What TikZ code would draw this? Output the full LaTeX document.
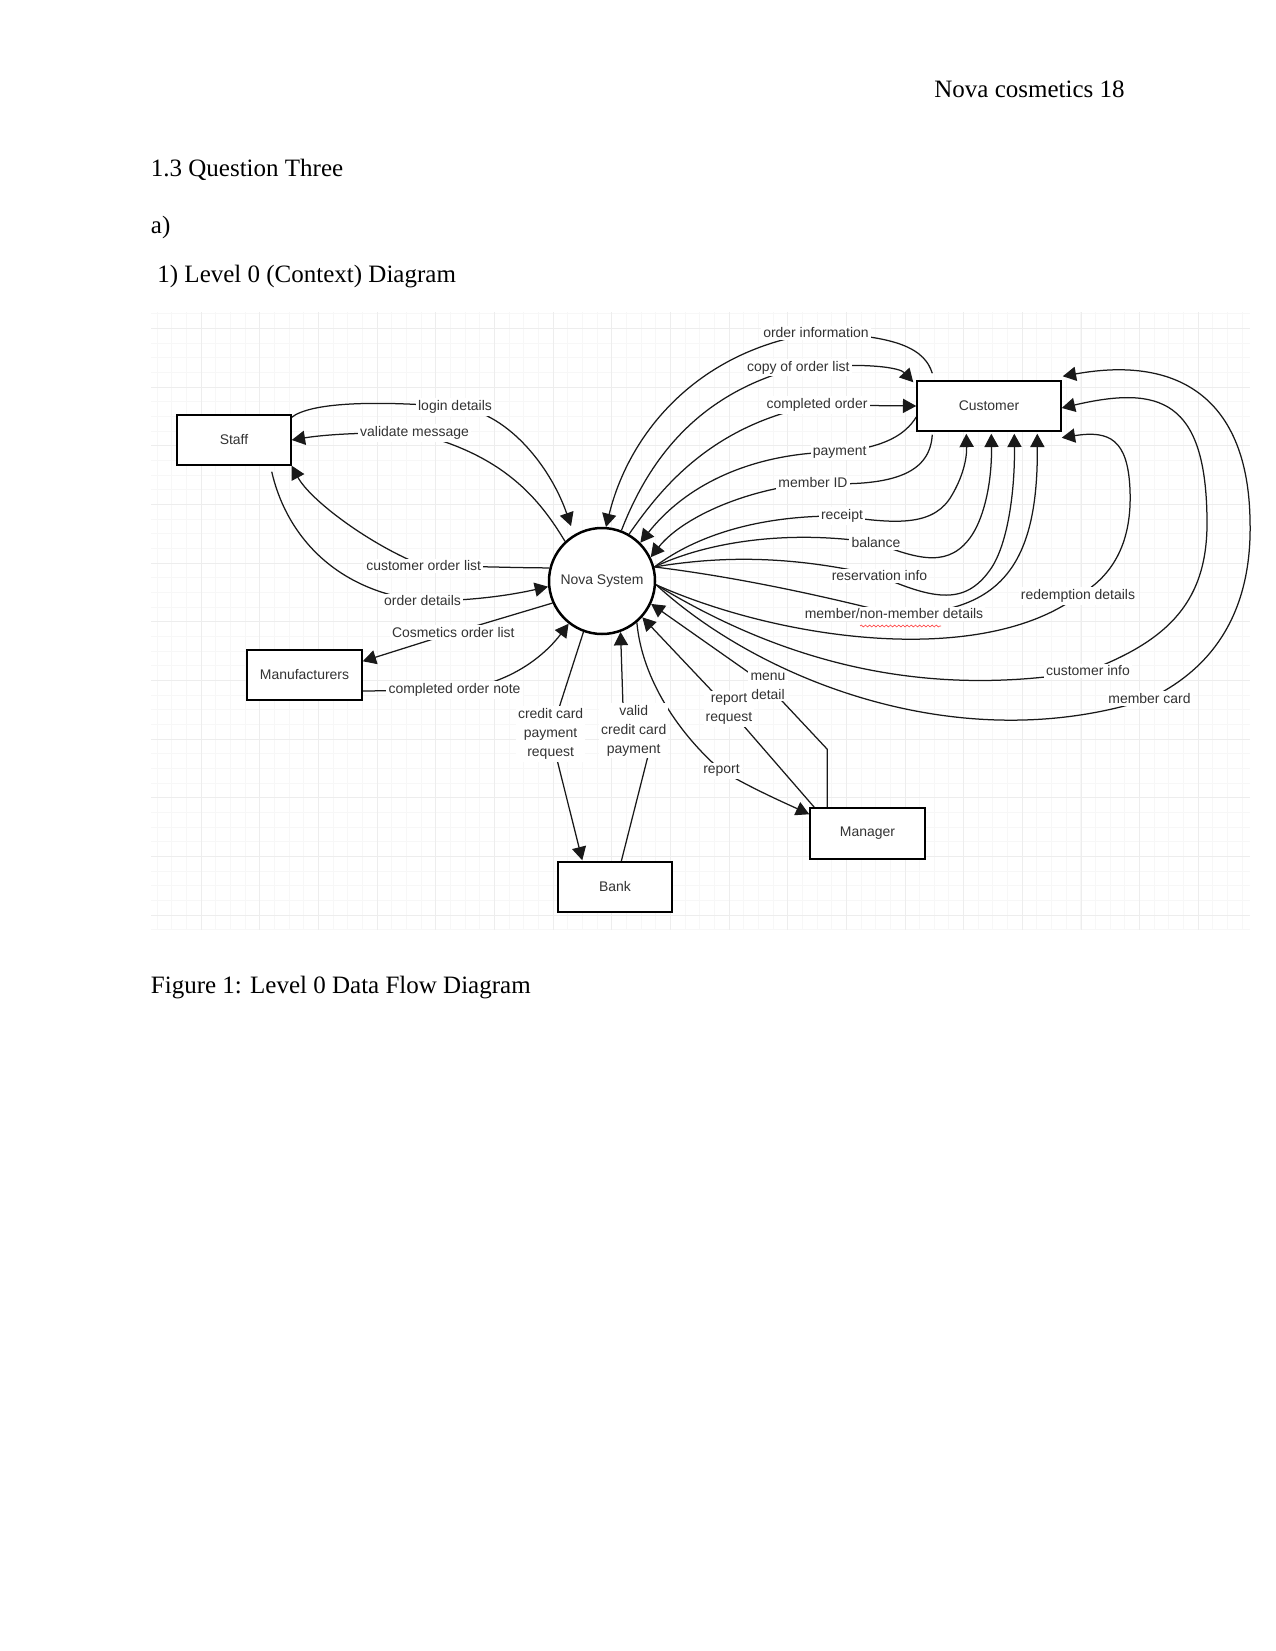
\documentclass[tikz,border=0pt]{standalone}
\usepackage{fontspec}
\setmainfont{Liberation Serif}
\newfontfamily\dfam{Liberation Sans}
\usetikzlibrary{arrows.meta,calc,decorations.pathmorphing}
\newcommand\dlab{\dfam\fontsize{6.7}{9.1}\selectfont}
\newcommand\hdrf{\fontsize{12}{14}\selectfont}
\pgfdeclarelayer{gridlayer}
\pgfdeclarelayer{edgelayer}
\pgfsetlayers{gridlayer,edgelayer,main}
\begin{document}
\begin{tikzpicture}[x=0.48pt,y=-0.48pt,
  ent/.style={draw=black, line width=0.7pt, rectangle, inner sep=0pt, minimum height=24pt, fill=white, font=\dlab, text=black!80},
  proc/.style={draw=black, line width=1.2pt, circle, inner sep=0pt, minimum size=50.88pt, fill=white, font=\dlab, text=black!80},
  lbl/.style={fill=white, inner sep=1pt, font=\dlab, text=black!80, align=center},
  flow/.style={line width=0.6pt, draw=black!90},
  arr/.style={flow, -{Triangle[length=6.4pt,width=6.8pt]}},
  hdrtxt/.style={inner sep=0pt, font=\hdrf, text=black},
  minorgrid/.style={draw=black!3, line width=0.4pt},
  majorgrid/.style={draw=black!7, line width=0.4pt}]
\useasboundingbox (0,0) rectangle (1275,1651);

% grid background
\begin{pgfonlayer}{gridlayer}
  \foreach \xx in {156.99,171.655,...,1250} \draw[minorgrid] (\xx,312) -- (\xx,930);
  \foreach \yy in {313.67,328.335,...,930} \draw[minorgrid] (151,\yy) -- (1250,\yy);
  \foreach \xx in {201,259.66,...,1250} \draw[majorgrid] (\xx,312) -- (\xx,930);
  \foreach \yy in {328.34,387,...,930} \draw[majorgrid] (151,\yy) -- (1250,\yy);
\end{pgfonlayer}

% page text
\node[hdrtxt, anchor=base east] (hdr) at (1125,98) {Nova cosmetics 18};
\node[hdrtxt, anchor=base west] (qthree) at (150.5,177) {1.3 Question Three};
\node[hdrtxt, anchor=base west] (parta) at (150.5,233) {a)};
\node[hdrtxt, anchor=base west] (lvl) at (157,282) {1) Level 0 (Context) Diagram};
\node[hdrtxt, anchor=base west] (fig) at (150.5,993) {Figure 1: Level 0 Data Flow Diagram};

% entities and process
\node[ent, minimum width=54.72pt] (staff) at (234,440) {Staff};
\node[ent, minimum width=69.12pt] (cust) at (989,406) {Customer};
\node[ent, minimum width=55.2pt] (manu) at (304.5,675) {Manufacturers};
\node[ent, minimum width=54.72pt] (bank) at (615,887) {Bank};
\node[ent, minimum width=55.2pt, minimum height=24.48pt] (man) at (867.5,833.5) {Manager};
\node[proc] (nova) at (602,581) {Nova System};

% flow labels
\node[lbl] (ld) at (455,407) {login details};
\node[lbl] (vm) at (414.5,433) {validate message};
\node[lbl] (col) at (423.7,566) {customer order list};
\node[lbl] (od) at (422.5,601) {order details};
\node[lbl] (cosl) at (453.3,632.7) {Cosmetics order list};
\node[lbl] (con) at (454.5,690) {completed order note};
\node[lbl] (ccr) at (550.6,734) {credit card\\payment\\request};
\node[lbl] (vcc) at (633.7,730.5) {valid\\credit card\\payment};
\node[lbl] (rr) at (729,709) {report\\request};
\node[lbl] (md) at (768,686) {menu\\detail};
\node[lbl] (rep) at (721.5,770.7) {report};
\node[lbl] (oi) at (816,333) {order information};
\node[lbl] (cool) at (798.3,367.7) {copy of order list};
\node[lbl] (co) at (817,405) {completed order};
\node[lbl] (pay) at (839.7,452) {payment};
\node[lbl] (mid) at (813,483) {member ID};
\node[lbl] (rec) at (842,516) {receipt};
\node[lbl] (bal) at (876,543) {balance};
\node[lbl] (res) at (879.5,576) {reservation info};
\node[lbl] (mnm) at (894,614) {member/non-member details};
\node[lbl] (rd) at (1078,596) {redemption details};
\node[lbl] (ci) at (1088,671) {customer info};
\node[lbl] (mc) at (1149.5,698.7) {member card};

% spell-check squiggle under "non-member"
\draw[red!75, line width=0.3pt, decorate, decoration={snake, amplitude=0.45pt, segment length=2pt}] (860,626) -- (941,626);

\begin{pgfonlayer}{edgelayer}
% Staff
\draw[arr] ($(staff.north east)+(0,3)$) .. controls (310,403) and (370,400) .. (ld.center)
  .. controls (505,410) and (550,465) .. ($(nova)+(-31,-55)$);
\draw[arr] (nova.133) .. controls (540,500) and (505,455) .. (vm.center)
  .. controls (340,432) and (310,437) .. (staff.east);
\draw[arr] (nova.166) .. controls (520,568) and (470,566) .. (col.center)
  .. controls (370,545) and (310,500) .. (staff.south east);
\draw[arr] ($(staff.south east)+(-20,6)$) .. controls (285,530) and (330,590) .. (od.center)
  .. controls (480,601) and (520,593) .. (nova.186);
% Manufacturers
\draw[arr] (nova.204) -- (cosl.center) -- ($(manu.north east)+(0,12)$);
\draw[arr] ($(manu.east)+(0,16)$) -- (con.center) .. controls (510,685) and (545,655) .. (nova.232);
% Bank
\draw[arr] (nova.250) -- (ccr.center) -- ($(bank.north west)+(25,-1)$);
\draw[arr] ($(bank.north west)+(64,0)$) -- (649,752) -- (vcc.center) -- (623,706) -- (nova.290);
% Manager
\draw[arr] ($(man.north west)+(5,0)$) -- (rr.center) -- (nova.318);
\draw[arr] ($(man.north west)+(18,0)$) -- ++(0,-58) -- (md.center) -- (nova.335);
\draw[arr] (nova.310) .. controls (642,680) and (680,735) .. (rep.center)
  .. controls (755,790) and (785,803) .. ($(man.north west)+(0,7)$);
% Customer (left / top)
\draw[arr] ($(cust.north west)+(16,-7)$) .. controls (925,350) and (900,335) .. (oi.center)
  .. controls (700,350) and (630,430) .. ($(nova)+(4,-54)$);
\draw[arr] (nova.69) .. controls (645,470) and (690,395) .. (cool.center)
  .. controls (870,362) and (900,368) .. ($(cust.north west)+(-3,2)$);
\draw[arr] (nova.60) .. controls (660,490) and (710,425) .. (co.center) -- (cust.west);
\draw[arr] ($(cust.west)+(0,11)$) .. controls (905,435) and (885,447) .. (pay.center)
  .. controls (760,452) and (690,480) .. (nova.45);
\draw[arr] ($(cust.south west)+(16,3)$) .. controls (930,470) and (900,488) .. (mid.center)
  .. controls (740,490) and (680,520) .. (nova.26);
% Customer (bottom)
\draw[arr] (nova.15) .. controls (690,540) and (750,515) .. (rec.center)
  .. controls (900,525) and (935,525) .. (952,495) .. controls (962,478) and (967,460) .. ($(cust.south west)+(50,2)$);
\draw[arr] (nova.15) .. controls (700,545) and (780,528) .. (bal.center)
  .. controls (920,560) and (950,568) .. (972,535) .. controls (985,515) and (992,480) .. ($(cust.south west)+(75,2)$);
\draw[arr] (nova.15) .. controls (720,556) and (790,555) .. (res.center)
  .. controls (935,600) and (965,605) .. (990,570) .. controls (1008,545) and (1015,490) .. ($(cust.south west)+(98,2)$);
\draw[arr] (nova.15) .. controls (720,575) and (800,590) .. (mnm.center)
  .. controls (1005,615) and (1038,560) .. ($(cust.south west)+(121,2)$);
% Customer (right)
\draw[arr] (nova.-4) .. controls (780,640) and (980,668) .. (rd.center)
  .. controls (1115,575) and (1132,540) .. (1130,490) .. controls (1128,440) and (1110,430) .. ($(cust.south east)+(0,6)$);
\draw[arr] (nova.-4) .. controls (780,660) and (920,700) .. (ci.center)
  .. controls (1170,640) and (1208,600) .. (1207,520) .. controls (1206,400) and (1160,385) .. ($(cust.east)+(0,2)$);
\draw[arr] (nova.-4) .. controls (760,680) and (960,760) .. (mc.center)
  .. controls (1230,660) and (1252,590) .. (1250,520) .. controls (1248,400) and (1180,355) .. ($(cust.north east)+(1,-4)$);
\end{pgfonlayer}
\end{tikzpicture}
\end{document}
